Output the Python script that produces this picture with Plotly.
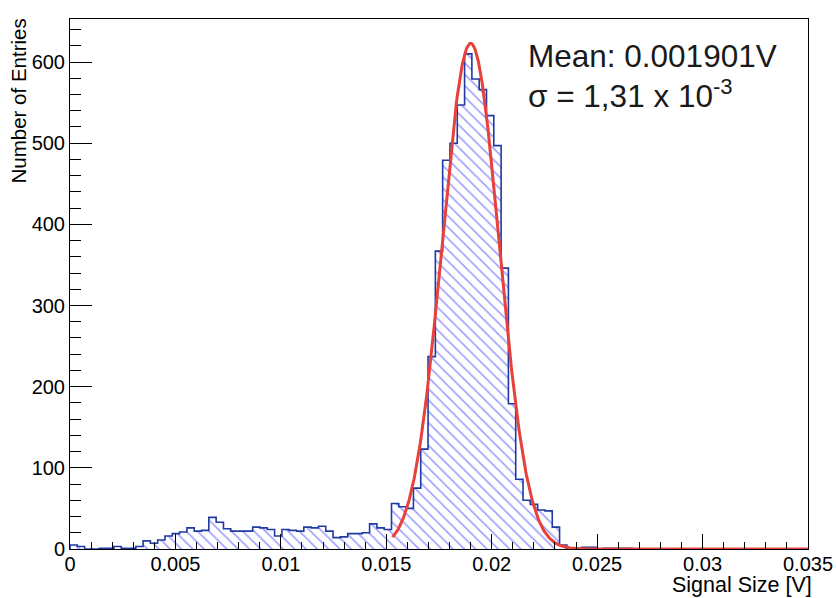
import numpy as np
import plotly.graph_objects as go

# ---------------- data ----------------
X_MIN, X_MAX = 0.0, 0.035
N_BINS = 101
COUNTS = [
    5, 3, 0, 0, 1, 1, 3, 1, 1, 3,
    10, 7, 11, 16, 19, 21, 26, 22, 23, 39,
    33, 25, 22, 22, 22, 27, 26, 24, 16, 24,
    23, 22, 27, 26, 28, 22, 14, 15, 19, 19,
    20, 31, 26, 24, 56, 52, 50, 75, 123, 237,
    367, 479, 500, 547, 610, 579, 566, 534, 497, 346,
    179, 86, 60, 55, 48, 47, 27, 5, 1, 0,
    2, 2, 0, 1, 1, 1, 1, 0, 0, 0,
    0, 0, 0, 0, 0, 0, 0, 0, 0, 0,
    0, 0, 0, 0, 0, 0, 0, 0, 0, 0,
    0,
]
FIT_AMPLITUDE = 623.0
FIT_MEAN = 0.01900
FIT_SIGMA = 0.00135
FIT_X_START = 0.0153
FIT_X_END = 0.035

X_TICKS = [0, 0.005, 0.01, 0.015, 0.02, 0.025, 0.03, 0.035]
X_TICK_LABELS = ["0", "0.005", "0.01", "0.015", "0.02", "0.025", "0.03", "0.035"]
Y_TICKS = [0, 100, 200, 300, 400, 500, 600]
Y_TICK_LABELS = ["0", "100", "200", "300", "400", "500", "600"]
Y_MAX = 653

X_TITLE = "Signal Size [V]"
Y_TITLE = "Number of Entries"
STAT_LINE1 = "Mean: 0.001901V"
STAT_LINE2 = "σ = 1,31 x 10<sup>-3</sup>"

FONT = "Liberation Sans, Arial, Helvetica, sans-serif"

# ---------------- derived ----------------
counts = np.array(COUNTS, dtype=float)
edges = np.linspace(X_MIN, X_MAX, N_BINS + 1)
centers = 0.5 * (edges[:-1] + edges[1:])
width = edges[1] - edges[0]

step_x = np.concatenate([[edges[0]], edges])
step_y = np.concatenate([[0.0], counts, [0.0]])

fit_x = np.linspace(FIT_X_START, FIT_X_END, 600)
fit_y = FIT_AMPLITUDE * np.exp(-0.5 * ((fit_x - FIT_MEAN) / FIT_SIGMA) ** 2)

fig = go.Figure()
fig.add_trace(go.Bar(
    x=centers, y=counts, width=width,
    marker=dict(
        color="rgba(255,255,255,0)",
        line=dict(width=0),
        pattern=dict(shape="\\", fgcolor="#3c3cff", bgcolor="rgba(255,255,255,0)",
                     size=8, solidity=0.19, fillmode="overlay"),
    ),
    showlegend=False, hoverinfo="skip",
))
fig.add_trace(go.Scatter(
    x=step_x, y=step_y, mode="lines", line=dict(shape="hv", color="#1f3aa0", width=1.6),
    showlegend=False, hoverinfo="skip",
))
fig.add_trace(go.Scatter(
    x=fit_x, y=fit_y, mode="lines", line=dict(color="#e8403a", width=3),
    showlegend=False, hoverinfo="skip",
))

L, R, T, B = 70, 28, 19, 49
W, H = 836, 598
pw, ph = W - L - R, H - T - B

def px_x(x):
    return (x - L) / pw

def px_y(y):
    return (H - B - y) / ph

fig.update_layout(
    width=W, height=H,
    margin=dict(l=L, r=R, t=T, b=B, pad=0, autoexpand=False),
    paper_bgcolor="white", plot_bgcolor="white",
    bargap=0,
    font=dict(family=FONT, size=20, color="black"),
)
fig.update_xaxes(
    range=[X_MIN, X_MAX], showgrid=False, zeroline=False, automargin=False,
    showline=True, linecolor="black", linewidth=1, mirror=True,
    ticks="inside", ticklen=15, tickwidth=1, tickcolor="black",
    tickvals=X_TICKS, ticktext=X_TICK_LABELS, ticklabelstandoff=-3,
    minor=dict(ticks="inside", ticklen=7, tickwidth=1, tickcolor="black", dtick=0.001, tick0=0),
    tickfont=dict(family=FONT, size=20, color="black"),
)
fig.update_yaxes(
    range=[0, Y_MAX], showgrid=False, zeroline=False, automargin=False,
    showline=True, linecolor="black", linewidth=1, mirror=True,
    ticks="inside", ticklen=22, tickwidth=1, tickcolor="black",
    tickvals=Y_TICKS, ticktext=Y_TICK_LABELS,
    minor=dict(ticks="inside", ticklen=11, tickwidth=1, tickcolor="black", dtick=20, tick0=0),
    tickfont=dict(family=FONT, size=20, color="black"),
)

fig.add_annotation(text=X_TITLE, xref="paper", yref="paper",
                   x=px_x(814), y=px_y(585), xanchor="right", yanchor="middle",
                   showarrow=False, font=dict(family=FONT, size=21.5, color="black"))
fig.add_annotation(text=Y_TITLE, xref="paper", yref="paper", textangle=-90,
                   x=px_x(18), y=px_y(17), xanchor="center", yanchor="top",
                   showarrow=False, font=dict(family=FONT, size=20.5, color="black"))
fig.add_annotation(text=STAT_LINE1, xref="paper", yref="paper",
                   x=px_x(526), y=px_y(56), xanchor="left", yanchor="middle",
                   showarrow=False, font=dict(family=FONT, size=31.5, color="#1a1a1a"))
fig.add_annotation(text=STAT_LINE2, xref="paper", yref="paper",
                   x=px_x(526), y=px_y(94), xanchor="left", yanchor="middle",
                   showarrow=False, font=dict(family=FONT, size=31.5, color="#1a1a1a"))

fig.write_html("out.html")
